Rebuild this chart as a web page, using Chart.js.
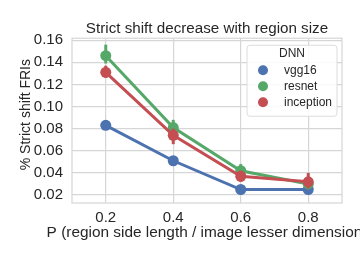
<!DOCTYPE html>
<html>
<head>
<meta charset="utf-8">
<script src="https://cdn.jsdelivr.net/npm/chart.js@4.4.1/dist/chart.umd.min.js"></script>
<style>
  html, body { margin: 0; padding: 0; background: #ffffff; }
  #graf { display: block; }
</style>
</head>
<body>
<canvas id="graf" width="360" height="254"></canvas>
<script>
// podatki
const kategorije = ['0.2', '0.4', '0.6', '0.8'];
const y_oznake = [0.02, 0.04, 0.06, 0.08, 0.10, 0.12, 0.14, 0.16];
const naslov = 'Strict shift decrease with region size';
const x_naslov = 'P (region side length / image lesser dimension)';
const y_naslov = '% Strict shift FRIs';

const vgg16 = [0.083, 0.051, 0.025, 0.025];
const vgg16_nizko = [0.079, 0.048, 0.024, 0.021];
const vgg16_visoko = [0.0875, 0.054, 0.027, 0.028];

const resnet = [0.146, 0.081, 0.042, 0.030];
const resnet_nizko = [0.139, 0.077, 0.038, 0.027];
const resnet_visoko = [0.156, 0.088, 0.048, 0.034];

const inception = [0.131, 0.074, 0.037, 0.032];
const inception_nizko = [0.126, 0.066, 0.032, 0.026];
const inception_visoko = [0.137, 0.080, 0.042, 0.040];

let modra = '#4C72B0';
let zelena = '#55A868';
let rdeca = '#C44E52';
let crte = '#d6d6d6';
let barva_pisave = '#262626';
let font = "'Liberation Sans', Arial, sans-serif";
let debelina = 3;
let tocka = 5.5;

function serija(ime, podatki, nizko, visoko, barva, vrstni_red) {
    return {
        label: ime,
        data: podatki,
        nizko: nizko,
        visoko: visoko,
        borderColor: barva,
        backgroundColor: barva,
        pointBackgroundColor: barva,
        pointBorderColor: barva,
        pointBorderWidth: 0,
        borderWidth: debelina,
        pointRadius: tocka,
        pointHoverRadius: tocka,
        fill: false,
        tension: 0,
        order: vrstni_red
    };
}

// napake narisane pod vsako serijo
const napake = {
    id: 'napake',
    beforeDatasetDraw(chart, args) {
        const ds = chart.data.datasets[args.index];
        const meta = chart.getDatasetMeta(args.index);
        const y = chart.scales.y;
        const ctx = chart.ctx;
        ctx.save();
        ctx.strokeStyle = ds.borderColor;
        ctx.lineWidth = debelina;
        ctx.lineCap = 'butt';
        meta.data.forEach((p, i) => {
            ctx.beginPath();
            ctx.moveTo(p.x, y.getPixelForValue(ds.nizko[i]));
            ctx.lineTo(p.x, y.getPixelForValue(ds.visoko[i]));
            ctx.stroke();
        });
        ctx.restore();
    }
};

// okvir risalne povrsine in naslova osi (brez stiskanja besedila)
const okvir = {
    id: 'okvir',
    beforeDatasetsDraw(chart) {
        const ca = chart.chartArea;
        const ctx = chart.ctx;
        ctx.save();
        ctx.strokeStyle = crte;
        ctx.lineWidth = 1.2;
        ctx.strokeRect(ca.left, ca.top, ca.right - ca.left, ca.bottom - ca.top);
        ctx.fillStyle = barva_pisave;
        ctx.textAlign = 'center';
        ctx.textBaseline = 'middle';
        ctx.font = '15.4px ' + font;
        ctx.fillText(x_naslov, (ca.left + ca.right) / 2, ca.bottom + 30);
        ctx.translate(ca.left - 46, (ca.top + ca.bottom) / 2 - 6);
        ctx.rotate(-Math.PI / 2);
        ctx.font = '14px ' + font;
        ctx.fillText(y_naslov, 0, 0);
        ctx.restore();
    }
};

// legenda z naslovom v zgornjem desnem kotu
const legenda = {
    id: 'legenda',
    afterDraw(chart) {
        const ca = chart.chartArea;
        const ctx = chart.ctx;
        const w = 90, h = 71;
        const x = ca.right - 5 - w;
        const y0 = ca.top + 7;
        ctx.save();
        ctx.beginPath();
        ctx.roundRect(x, y0, w, h, 3);
        ctx.fillStyle = 'rgba(255,255,255,0.85)';
        ctx.fill();
        ctx.strokeStyle = '#dcdcdc';
        ctx.lineWidth = 1;
        ctx.stroke();
        ctx.fillStyle = barva_pisave;
        ctx.font = '12px ' + font;
        ctx.textBaseline = 'middle';
        ctx.textAlign = 'center';
        ctx.fillText('DNN', x + w / 2, y0 + 8);
        ctx.textAlign = 'left';
        chart.data.datasets.forEach((ds, i) => {
            const yy = y0 + 25 + i * 16;
            ctx.beginPath();
            ctx.arc(x + 16, yy, 5, 0, Math.PI * 2);
            ctx.fillStyle = ds.borderColor;
            ctx.fill();
            ctx.fillStyle = barva_pisave;
            ctx.fillText(ds.label, x + 37, yy);
        });
        ctx.restore();
    }
};

const platno = document.getElementById('graf').getContext('2d');
const graf = new Chart(platno, {
    type: 'line',
    data: {
        labels: kategorije,
        datasets: [
            serija('vgg16', vgg16, vgg16_nizko, vgg16_visoko, modra, 3),
            serija('resnet', resnet, resnet_nizko, resnet_visoko, zelena, 2),
            serija('inception', inception, inception_nizko, inception_visoko, rdeca, 1)
        ]
    },
    plugins: [okvir, napake, legenda],
    options: {
        responsive: false,
        animation: false,
        layout: { padding: { left: 0, right: 18, top: 0, bottom: 0 } },
        plugins: {
            legend: { display: false },
            tooltip: { enabled: false },
            title: {
                display: true,
                text: naslov,
                fullSize: false,
                color: barva_pisave,
                font: { family: font, size: 15.2, weight: 'normal' },
                padding: { top: 20, bottom: 0 }
            }
        },
        scales: {
            x: {
                offset: true,
                grid: { display: true, color: crte, lineWidth: 1.2, offset: false, drawTicks: false },
                border: { display: false },
                ticks: {
                    color: barva_pisave,
                    font: { family: font, size: 15 },
                    padding: 6,
                    maxRotation: 0
                },
                afterFit(scale) { scale.height = 51; }
            },
            y: {
                min: 0.0128,
                max: 0.1618,
                grid: { display: true, color: crte, lineWidth: 1.2, drawTicks: false },
                border: { display: false },
                afterBuildTicks(scale) {
                    scale.ticks = y_oznake.map(v => ({ value: v }));
                },
                ticks: {
                    color: barva_pisave,
                    font: { family: font, size: 15 },
                    padding: 9,
                    callback: v => v.toFixed(2)
                },
                afterFit(scale) { scale.width = 72; }
            }
        }
    }
});
</script>
</body>
</html>
